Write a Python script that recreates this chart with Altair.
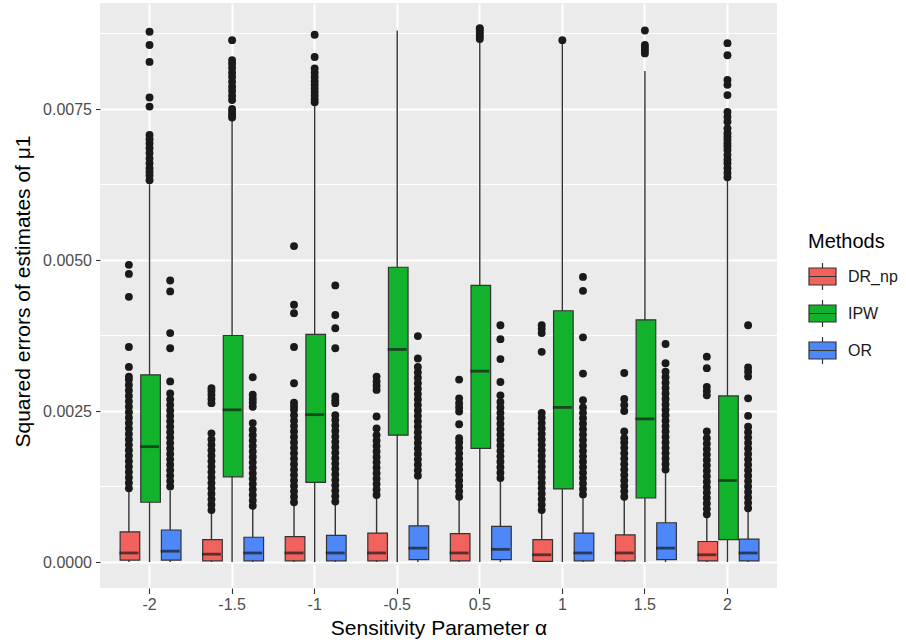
import altair as alt
import pandas as pd

CATEGORIES = ["-2", "-1.5", "-1", "-0.5", "0.5", "1", "1.5", "2"]
METHODS = ["DR_np", "IPW", "OR"]
COLORS = ["#F2625D", "#13B22D", "#4E88F8"]
Y_TICKS = [0.0, 0.0025, 0.005, 0.0075]
Y_MINOR = [0.00125, 0.00375, 0.00625, 0.00875]

# box statistics per category (lower whisker, Q1, median, Q3, upper whisker)
DR_LOW = [0.0, 0.0, 0.0, 0.0, 0.0, 0.0, 0.0, 0.0]
DR_Q1 = [0.00003, 0.00002, 0.00002, 0.00002, 0.00002, 0.00001, 0.00002, 0.00002]
DR_MED = [0.00015, 0.00013, 0.00015, 0.00015, 0.00015, 0.00012, 0.00015, 0.00012]
DR_Q3 = [0.00050, 0.00037, 0.00042, 0.00048, 0.00047, 0.00037, 0.00045, 0.00034]
DR_HIGH = [0.00116, 0.00082, 0.00095, 0.00107, 0.00106, 0.00084, 0.00106, 0.00076]

IPW_LOW = [0.0, 0.0, 0.0, 0.0, 0.0, 0.0, 0.0, 0.0]
IPW_Q1 = [0.00099, 0.00141, 0.00132, 0.00210, 0.00188, 0.00121, 0.00106, 0.00037]
IPW_MED = [0.00191, 0.00252, 0.00244, 0.00352, 0.00316, 0.00256, 0.00237, 0.00135]
IPW_Q3 = [0.00310, 0.00375, 0.00377, 0.00488, 0.00458, 0.00416, 0.00401, 0.00275]
IPW_HIGH = [0.00625, 0.00730, 0.00756, 0.00880, 0.00862, 0.00858, 0.00813, 0.00631]

OR_LOW = [0.0, 0.0, 0.0, 0.0, 0.0, 0.0, 0.0, 0.0]
OR_Q1 = [0.00003, 0.00002, 0.00002, 0.00004, 0.00004, 0.00002, 0.00004, 0.00002]
OR_MED = [0.00018, 0.00015, 0.00015, 0.00023, 0.00021, 0.00015, 0.00023, 0.00015]
OR_Q3 = [0.00053, 0.00041, 0.00044, 0.00060, 0.00059, 0.00048, 0.00065, 0.00038]
OR_HIGH = [0.00118, 0.00090, 0.00097, 0.00140, 0.00137, 0.00109, 0.00150, 0.00087]

# outliers per category
DR_OUT = [
    [0.00122, 0.00131, 0.0014, 0.00149, 0.00158, 0.00167, 0.00176, 0.00185, 0.00194, 0.00203, 0.00212, 0.00221, 0.0023, 0.00239, 0.00248, 0.00257, 0.00266, 0.00275, 0.00284, 0.00293, 0.00302, 0.00307, 0.00323, 0.00356, 0.00439, 0.00477, 0.00492],
    [0.00086, 0.00095, 0.00104, 0.00113, 0.00122, 0.00131, 0.0014, 0.00149, 0.00158, 0.00167, 0.00176, 0.00185, 0.00194, 0.00203, 0.00213, 0.00263, 0.0027, 0.00277, 0.00283, 0.00288],
    [0.00099, 0.00108, 0.00117, 0.00126, 0.00135, 0.00144, 0.00153, 0.00162, 0.00171, 0.0018, 0.00189, 0.00198, 0.00207, 0.00216, 0.00225, 0.00234, 0.00243, 0.00252, 0.00258, 0.00264, 0.00296, 0.00356, 0.00412, 0.00426, 0.00523],
    [0.00111, 0.0012, 0.00129, 0.00138, 0.00147, 0.00156, 0.00165, 0.00174, 0.00183, 0.00192, 0.00201, 0.0021, 0.00221, 0.00241, 0.00285, 0.00292, 0.00299, 0.00307],
    [0.00108, 0.00117, 0.00126, 0.00135, 0.00144, 0.00153, 0.00162, 0.00171, 0.0018, 0.00189, 0.00198, 0.00205, 0.00228, 0.00249, 0.00256, 0.00263, 0.00271, 0.00302],
    [0.00086, 0.00095, 0.00104, 0.00113, 0.00122, 0.00131, 0.0014, 0.00149, 0.00158, 0.00167, 0.00176, 0.00185, 0.00194, 0.00203, 0.00212, 0.00221, 0.0023, 0.00239, 0.00247, 0.00348, 0.00379, 0.00386, 0.00392],
    [0.00108, 0.00117, 0.00126, 0.00135, 0.00144, 0.00153, 0.00162, 0.00171, 0.0018, 0.00189, 0.00198, 0.00205, 0.00216, 0.0025, 0.0026, 0.0027, 0.00313],
    [0.00079, 0.00088, 0.00097, 0.00106, 0.00115, 0.00124, 0.00133, 0.00142, 0.00151, 0.0016, 0.00169, 0.00178, 0.00187, 0.00196, 0.00205, 0.00216, 0.00276, 0.00283, 0.0029, 0.00321, 0.0034],
]
IPW_OUT = [
    [0.00632, 0.0064, 0.00646, 0.00652, 0.0066, 0.00668, 0.00677, 0.00685, 0.00693, 0.007, 0.00707, 0.00754, 0.00769, 0.00828, 0.00856, 0.00878],
    [0.00736, 0.0074, 0.00745, 0.0075, 0.00765, 0.00772, 0.0078, 0.00787, 0.00795, 0.00803, 0.0081, 0.00818, 0.00825, 0.00831, 0.00864],
    [0.00761, 0.00766, 0.00772, 0.00778, 0.00784, 0.0079, 0.00796, 0.00803, 0.0081, 0.00817, 0.00836, 0.00873],
    [],
    [0.00866, 0.0087, 0.00874, 0.00878, 0.00882, 0.00884],
    [0.00864],
    [0.00842, 0.00847, 0.00852, 0.00856, 0.0088],
    [0.00637, 0.00644, 0.00652, 0.0066, 0.00666, 0.00674, 0.00682, 0.00688, 0.00693, 0.00699, 0.00704, 0.0071, 0.00718, 0.00729, 0.00737, 0.00745, 0.00773, 0.0079, 0.00798, 0.00839, 0.00859],
]
OR_OUT = [
    [0.00125, 0.00134, 0.00143, 0.00152, 0.00161, 0.0017, 0.00179, 0.00188, 0.00197, 0.00206, 0.00215, 0.00224, 0.00233, 0.00242, 0.00251, 0.0026, 0.00269, 0.00279, 0.00299, 0.00354, 0.00379, 0.00448, 0.00466],
    [0.00093, 0.00102, 0.00111, 0.0012, 0.00129, 0.00138, 0.00147, 0.00156, 0.00165, 0.00174, 0.00183, 0.00192, 0.00201, 0.0021, 0.00219, 0.0023, 0.00257, 0.00264, 0.0027, 0.00277, 0.00306],
    [0.001, 0.00109, 0.00118, 0.00127, 0.00136, 0.00145, 0.00154, 0.00163, 0.00172, 0.00181, 0.0019, 0.00199, 0.00208, 0.00217, 0.00226, 0.00235, 0.00243, 0.00263, 0.00268, 0.00274, 0.00354, 0.00387, 0.00409, 0.00458],
    [0.00143, 0.00152, 0.00161, 0.0017, 0.00179, 0.00188, 0.00197, 0.00206, 0.00215, 0.00224, 0.00233, 0.00242, 0.00251, 0.0026, 0.00269, 0.00278, 0.00287, 0.00296, 0.00305, 0.00314, 0.00323, 0.00337, 0.00374],
    [0.00139, 0.00148, 0.00157, 0.00166, 0.00175, 0.00184, 0.00193, 0.00202, 0.00211, 0.0022, 0.00229, 0.00238, 0.00247, 0.00256, 0.00265, 0.00276, 0.00298, 0.00336, 0.00369, 0.00392],
    [0.00112, 0.00121, 0.0013, 0.00139, 0.00148, 0.00157, 0.00166, 0.00175, 0.00184, 0.00193, 0.00202, 0.00211, 0.0022, 0.00229, 0.00238, 0.00247, 0.00256, 0.00268, 0.00312, 0.00372, 0.00449, 0.00472],
    [0.00153, 0.00162, 0.00171, 0.0018, 0.00189, 0.00198, 0.00207, 0.00216, 0.00225, 0.00234, 0.00243, 0.00252, 0.00261, 0.0027, 0.00279, 0.00288, 0.00297, 0.00306, 0.00315, 0.00329, 0.00361],
    [0.00089, 0.00098, 0.00107, 0.00116, 0.00125, 0.00134, 0.00143, 0.00152, 0.00161, 0.0017, 0.00179, 0.00188, 0.00197, 0.00206, 0.00215, 0.00224, 0.00242, 0.00271, 0.00307, 0.00315, 0.00322, 0.00392],
]

STATS = {
    "DR_np": (DR_LOW, DR_Q1, DR_MED, DR_Q3, DR_HIGH, DR_OUT),
    "IPW": (IPW_LOW, IPW_Q1, IPW_MED, IPW_Q3, IPW_HIGH, IPW_OUT),
    "OR": (OR_LOW, OR_Q1, OR_MED, OR_Q3, OR_HIGH, OR_OUT),
}

box_rows, out_rows = [], []
for m in METHODS:
    lo, q1, med, q3, hi, outs = STATS[m]
    for i, c in enumerate(CATEGORIES):
        box_rows.append({"alpha": c, "method": m, "low": lo[i], "q1": q1[i],
                         "med": med[i], "q3": q3[i], "high": hi[i]})
        for v in outs[i]:
            out_rows.append({"alpha": c, "method": m, "value": v})
box_df = pd.DataFrame(box_rows)
out_df = pd.DataFrame(out_rows)
minor_df = pd.DataFrame({"v": Y_MINOR})

FONT = "Liberation Sans"
Y_TITLE = "Squared errors of estimates of \u03bc1"
X_TITLE = "Sensitivity Parameter \u03b1"

yscale = alt.Scale(domain=[-0.00043, 0.009255], nice=False, zero=False)
xscale = alt.Scale(paddingInner=0.25, paddingOuter=0.225)
oscale = alt.Scale(paddingInner=0, paddingOuter=0)

x_axis = alt.Axis(grid=True, gridColor="white", gridWidth=2, domain=False,
                  tickColor="#333333", tickSize=5.5, tickWidth=1.1,
                  labelFontSize=16, labelColor="#4D4D4D", labelAngle=0, labelPadding=3,
                  labelFont=FONT, titleFont=FONT, titleFontSize=21, titleColor="black",
                  titleFontWeight="normal", titleX=338.5, titleY=46,
                  titleBaseline="alphabetic")
y_axis = alt.Axis(values=Y_TICKS, format=".4f", grid=True, gridColor="white", gridWidth=2,
                  domain=False, tickColor="#333333", tickSize=4.5, tickWidth=1.1,
                  labelFontSize=16, labelColor="#4D4D4D", labelPadding=4, labelFont=FONT,
                  titleFont=FONT, titleFontSize=21, titleColor="black",
                  titleFontWeight="normal", titleX=-71, titleY=288, titleAngle=-90,
                  titleBaseline="alphabetic", titleAlign="center")


def X():
    return alt.X("alpha:N", sort=CATEGORIES, scale=xscale, axis=x_axis, title=X_TITLE)


def Y(field):
    return alt.Y(field, scale=yscale, axis=y_axis, title=Y_TITLE)


XO = alt.XOffset("method:N", sort=METHODS, scale=oscale)

minor = alt.Chart(minor_df).mark_rule(color="white", strokeWidth=1).encode(
    y=Y("v:Q")
)

whisk = alt.Chart(box_df).mark_rule(color="#333333", strokeWidth=1.4).encode(
    x=X(), xOffset=XO, y=Y("low:Q"), y2="high:Q",
)

legend_path = "M-1,-0.63H1V0.63H-1Z M-1,0H1 M0,-0.63V-1 M0,0.63V1"

boxes = alt.Chart(box_df).mark_bar(stroke="#333333", strokeWidth=1.2,
                                    width={"band": 0.95}).encode(
    x=X(), xOffset=XO, y=Y("q1:Q"), y2="q3:Q",
    color=alt.Color("method:N", sort=METHODS,
                    scale=alt.Scale(domain=METHODS, range=COLORS),
                    legend=alt.Legend(title="Methods", orient="none", legendX=708, legendY=229,
                                      titleFont=FONT, titleFontSize=20, titleColor="black",
                                      titleFontWeight="normal", titlePadding=10,
                                      labelFont=FONT, labelFontSize=16, labelColor="#1A1A1A",
                                      symbolType=legend_path, symbolSize=729,
                                      symbolStrokeColor="#333333", symbolStrokeWidth=1.2,
                                      rowPadding=4, labelOffset=11, padding=0)),
)

medians = alt.Chart(box_df).mark_tick(color="#1A1A1A", thickness=2.8, size=19).encode(
    x=X(), xOffset=XO, y=Y("med:Q"),
)

outliers = alt.Chart(out_df).mark_circle(size=62, color="#1A1A1A", opacity=1).encode(
    x=X(), xOffset=XO, y=Y("value:Q"),
)

chart = alt.layer(minor, whisk, boxes, medians, outliers).properties(
    width=677, height=585,
    autosize=alt.AutoSizeParams(type="none"),
    padding={"left": 100, "top": 3, "right": 129, "bottom": 55},
    background="white",
).configure(font=FONT).configure_view(fill="#EBEBEB", strokeWidth=0)

chart.save("out.html", embed_options={"renderer": "svg", "actions": False})
